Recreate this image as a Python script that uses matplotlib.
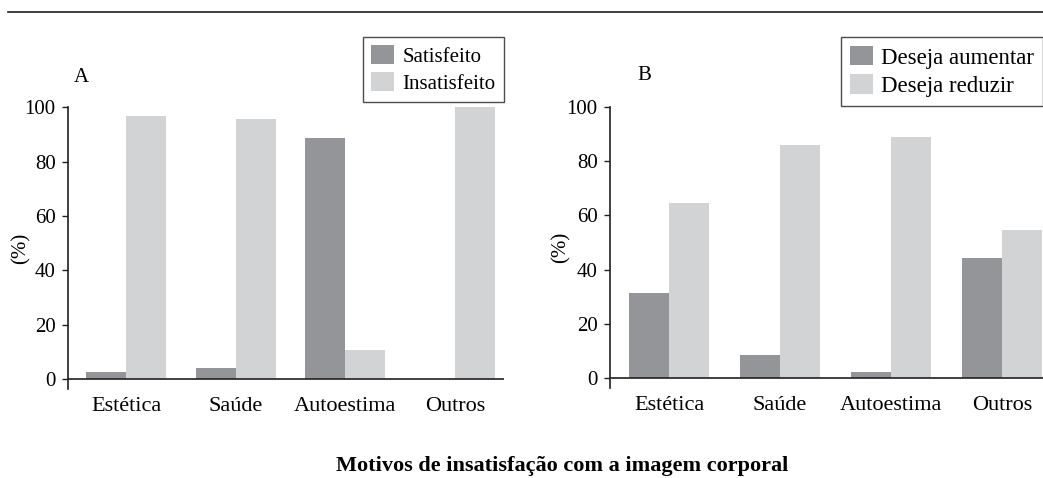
import matplotlib
matplotlib.use('Agg')
import matplotlib.pyplot as plt
import numpy as np
from matplotlib.lines import Line2D

# Dados
categorias = ['Estética', 'Saúde', 'Autoestima', 'Outros']
satisfeito = [2.7, 4.2, 88.7, 0]
insatisfeito = [96.8, 95.7, 10.8, 100]
deseja_aumentar = [31.4, 8.6, 2.3, 44.3]
deseja_reduzir = [64.5, 85.9, 88.8, 54.6]
yticks = [0, 20, 40, 60, 80, 100]

cor_escura = '#939598'
cor_clara = '#d1d3d4'
cor_linha = '#231f20'

plt.rcParams['font.family'] = ['Liberation Serif', 'DejaVu Serif']
plt.rcParams['font.size'] = 15

W, H = 1043, 478
fig = plt.figure(figsize=(W / 100, H / 100), dpi=100)


def eixo_px(x0, x1, y_top, y_bot):
    return fig.add_axes([x0 / W, 1 - y_bot / H, (x1 - x0) / W, (y_bot - y_top) / H])


def painel(ax, serie1, serie2, rot1, rot2, xlim, letra, pos_letra, leg_box, pos_ylabel, leg_fs):
    x = np.arange(len(categorias))
    w = 0.364
    ax.bar(x - w / 2, serie1, w, color=cor_escura, label=rot1)
    ax.bar(x + w / 2, serie2, w, color=cor_clara, label=rot2)
    ax.axhline(0, color=cor_linha, lw=1.2)
    ax.set_xlim(*xlim)
    ax.set_ylim(-3.6, 100)
    ax.set_yticks(yticks)
    ax.set_xticks(x)
    ax.set_xticklabels(categorias, fontsize=16)
    ax.tick_params(axis='x', length=0, pad=6)
    ax.tick_params(axis='y', length=4, width=1, pad=5, direction='out',
                   color=cor_linha, labelsize=15)
    for s in ['top', 'right', 'bottom']:
        ax.spines[s].set_visible(False)
    ax.spines['left'].set_linewidth(1.2)
    ax.spines['left'].set_color(cor_linha)
    ax.set_ylabel('(%)', fontsize=15)
    ax.yaxis.set_label_coords(pos_ylabel, 0.5)
    fig.text(pos_letra[0] / W, 1 - pos_letra[1] / H, letra, ha='left', va='center', fontsize=15)
    em = leg_fs * 100 / 72
    leg = ax.legend(loc='upper left', bbox_to_anchor=leg_box, bbox_transform=fig.transFigure,
                    frameon=True, fancybox=False, edgecolor=cor_linha,
                    handlelength=23 / em, handleheight=21 / em, handletextpad=8 / em,
                    labelspacing=0.25, borderpad=0.4, borderaxespad=0, fontsize=leg_fs)
    leg.get_frame().set_linewidth(1.0)
    return ax


ax1 = eixo_px(68, 504, 107.3, 389)
painel(ax1, satisfeito, insatisfeito, 'Satisfeito', 'Insatisfeito',
       (-0.529, 3.447), 'A', (74, 77), (363 / W, 1 - 37 / H), -0.085, 15)

ax2 = eixo_px(610, 1043, 106.7, 388)
painel(ax2, deseja_aumentar, deseja_reduzir, 'Deseja aumentar', 'Deseja reduzir',
       (-0.532, 3.37), 'B', (637, 75), (841 / W, 1 - 37 / H), -0.09, 16.5)

# linha superior
fig.add_artist(Line2D([8 / W, 1], [1 - 12 / H, 1 - 12 / H], color=cor_linha, lw=1.2,
                      transform=fig.transFigure))

fig.text(562 / W, 1 - 466 / H, 'Motivos de insatisfação com a imagem corporal',
         ha='center', va='center', fontweight='bold', fontsize=16)

fig.savefig('out.png', dpi=100, facecolor='white')
